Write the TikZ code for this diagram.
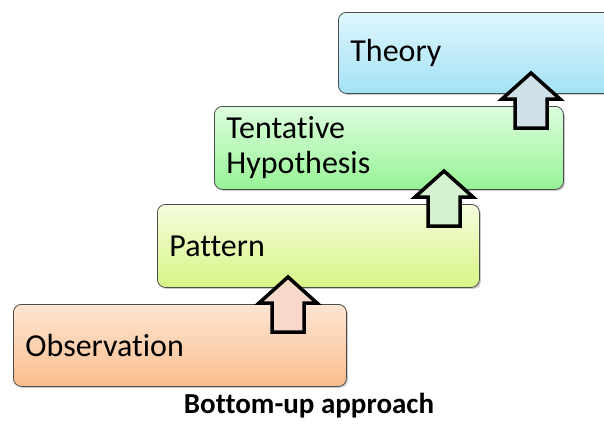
\documentclass[tikz,border=0pt]{standalone}
\usepackage{fontspec}
\setmainfont{Carlito}[Ligatures={NoCommon}]
\usetikzlibrary{shadows}
\definecolor{thA}{HTML}{DFF6FD}\definecolor{thB}{HTML}{A3E2F6}
\definecolor{teA}{HTML}{DDFDDD}\definecolor{teB}{HTML}{96F396}
\definecolor{paA}{HTML}{F4FCDC}\definecolor{paB}{HTML}{D8F586}
\definecolor{obA}{HTML}{FDE5D2}\definecolor{obB}{HTML}{FBBE8E}
\definecolor{arT}{HTML}{D0E1EA}\definecolor{arH}{HTML}{D6F1D2}\definecolor{arP}{HTML}{F9D9CC}
\tikzset{
  stepbox/.style={draw=black!70, line width=0.8pt, rounded corners=8pt, anchor=north west,
    inner xsep=12pt, inner ysep=0pt, align=left,
    font=\fontsize{32}{35}\selectfont,
    drop shadow={shadow xshift=1.5pt, shadow yshift=-1.5pt, opacity=0.35, fill=black!60}},
  uparrow/.style={draw=black, line width=3.5pt, miter limit=10},
}
\newcommand{\blockarrow}[4]{% name, cx, tip y, fill
  \fill[#4] (#2,#3) -- ++(29,26) -- ++(-13,0) -- ++(0,29) -- ++(-32,0) -- ++(0,-29) -- ++(-13,0) -- cycle;
  \draw[uparrow] (#2,#3) coordinate (#1) -- ++(29,26) -- ++(-13,0) -- ++(0,29) -- ++(-32,0) -- ++(0,-29) -- ++(-13,0) -- cycle;
}
\begin{document}
\begin{tikzpicture}[x=1pt,y=-1pt]
\useasboundingbox (0,0) rectangle (604,423);
\clip (0,0) rectangle (604,423);
\node[stepbox, top color=thA, bottom color=thB, minimum width=280pt, minimum height=81pt, text width=256pt] (theory) at (338,12) {Theory};
\node[stepbox, top color=teA, bottom color=teB, minimum width=349pt, minimum height=83pt, text width=325pt] (tent) at (214,106) {Tentative\\Hypothesis};
\node[stepbox, top color=paA, bottom color=paB, minimum width=322pt, minimum height=83pt, text width=298pt] (pattern) at (157,204) {Pattern};
\node[stepbox, top color=obA, bottom color=obB, minimum width=333pt, minimum height=82pt, text width=309pt] (obs) at (13,304) {Observation};
\blockarrow{a3}{531}{73}{arT}
\blockarrow{a2}{444}{171}{arH}
\blockarrow{a1}{288}{277}{arP}
\node[anchor=base, font=\fontsize{29}{32}\selectfont\bfseries] (cap) at (309,413) {Bottom-up approach};
\end{tikzpicture}
\end{document}
